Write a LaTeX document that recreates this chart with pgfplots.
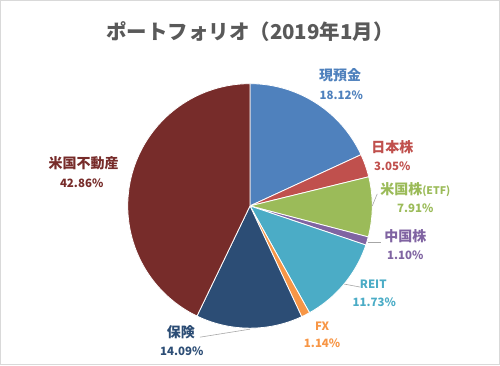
\documentclass[border=0pt]{standalone}
\usepackage{fontspec}
\setmainfont{Noto Sans CJK JP}
\usepackage{pgfplots}
\pgfplotsset{compat=1.18}
\definecolor{cA}{HTML}{4F81BD}
\definecolor{cB}{HTML}{C0504D}
\definecolor{cC}{HTML}{9BBB59}
\definecolor{cD}{HTML}{8064A2}
\definecolor{cE}{HTML}{4BACC6}
\definecolor{cF}{HTML}{F79646}
\definecolor{cG}{HTML}{2C4D75}
\definecolor{cH}{HTML}{772C2A}
\definecolor{titlegray}{HTML}{595959}
\tikzset{lab/.style={font=\fontsize{14}{16}\selectfont\bfseries, inner sep=0pt},
         pct/.style={font=\fontsize{11.5}{14}\selectfont\bfseries, inner sep=0pt}}
% shares in percent
\def\vA{18.12}\def\vB{3.05}\def\vC{7.91}\def\vD{1.10}
\def\vE{11.73}\def\vF{1.14}\def\vG{14.09}\def\vH{42.86}
\pgfmathsetmacro\aA{90}
\pgfmathsetmacro\aB{\aA-3.6*\vA}
\pgfmathsetmacro\aC{\aB-3.6*\vB}
\pgfmathsetmacro\aD{\aC-3.6*\vC}
\pgfmathsetmacro\aE{\aD-3.6*\vD}
\pgfmathsetmacro\aF{\aE-3.6*\vE}
\pgfmathsetmacro\aG{\aF-3.6*\vF}
\pgfmathsetmacro\aH{\aG-3.6*\vG}
\pgfmathsetmacro\aI{\aH-3.6*\vH}
\def\cx{250}\def\cy{160}\def\rr{122}
\newcommand\slice[3]{%
  \addplot[fill=#3, draw=white, line width=0.8pt, domain=#2:#1, samples=80, variable=\t]
    ({\cx+\rr*cos(\t)},{\cy+\rr*sin(\t)}) -- (axis cs:\cx,\cy) -- cycle;}
\begin{document}
\begin{tikzpicture}
\begin{axis}[
  width=500bp, height=366bp, scale only axis,
  xmin=0, xmax=500, ymin=0, ymax=366,
  hide axis, clip=false, set layers,
]
\draw[draw=black!15, line width=1pt] (axis cs:1,1.5) rectangle (axis cs:499,365);
\slice{\aA}{\aB}{cA}
\slice{\aB}{\aC}{cB}
\slice{\aC}{\aD}{cC}
\slice{\aD}{\aE}{cD}
\slice{\aE}{\aF}{cE}
\slice{\aF}{\aG}{cF}
\slice{\aG}{\aH}{cG}
\slice{\aH}{\aI}{cH}
% leader lines
\addplot[black!35, line width=0.6pt] coordinates {(372,160) (377,172)};
\addplot[black!35, line width=0.6pt] coordinates {(368,124) (381,124)};
\addplot[black!35, line width=0.6pt] coordinates {(344,82) (360,79)};
\addplot[black!35, line width=0.6pt] coordinates {(250,37) (200,29)};
\begin{pgfonlayer}{axis foreground}
\node[font=\fontsize{20.5}{24}\selectfont\bfseries, text=titlegray] at (axis cs:250,334) {ポートフォリオ（2019年1月）};
\node[lab, text=cA] at (axis cs:340,290) {現預金};
\node[pct, text=cA] at (axis cs:341,270) {18.12\%};
\node[lab, text=cB] at (axis cs:392,219) {日本株};
\node[pct, text=cB] at (axis cs:392,200) {3.05\%};
\node[lab, text=cC] at (axis cs:415,176) {米国株{\fontsize{10.5}{12}\selectfont(ETF)}};
\node[pct, text=cC] at (axis cs:415,158) {7.91\%};
\node[lab, text=cD] at (axis cs:405,130) {中国株};
\node[pct, text=cD] at (axis cs:405,111) {1.10\%};
\node[pct, text=cE] at (axis cs:373,82) {REIT};
\node[pct, text=cE] at (axis cs:374,64) {11.73\%};
\node[pct, text=cF] at (axis cs:322,40) {FX};
\node[pct, text=cF] at (axis cs:322,23) {1.14\%};
\node[lab, text=cG] at (axis cs:181,34) {保険};
\node[pct, text=cG] at (axis cs:182,15) {14.09\%};
\node[lab, text=cH] at (axis cs:84,203) {米国不動産};
\node[pct, text=cH] at (axis cs:82,183) {42.86\%};
\end{pgfonlayer}
\end{axis}
\end{tikzpicture}
\end{document}
